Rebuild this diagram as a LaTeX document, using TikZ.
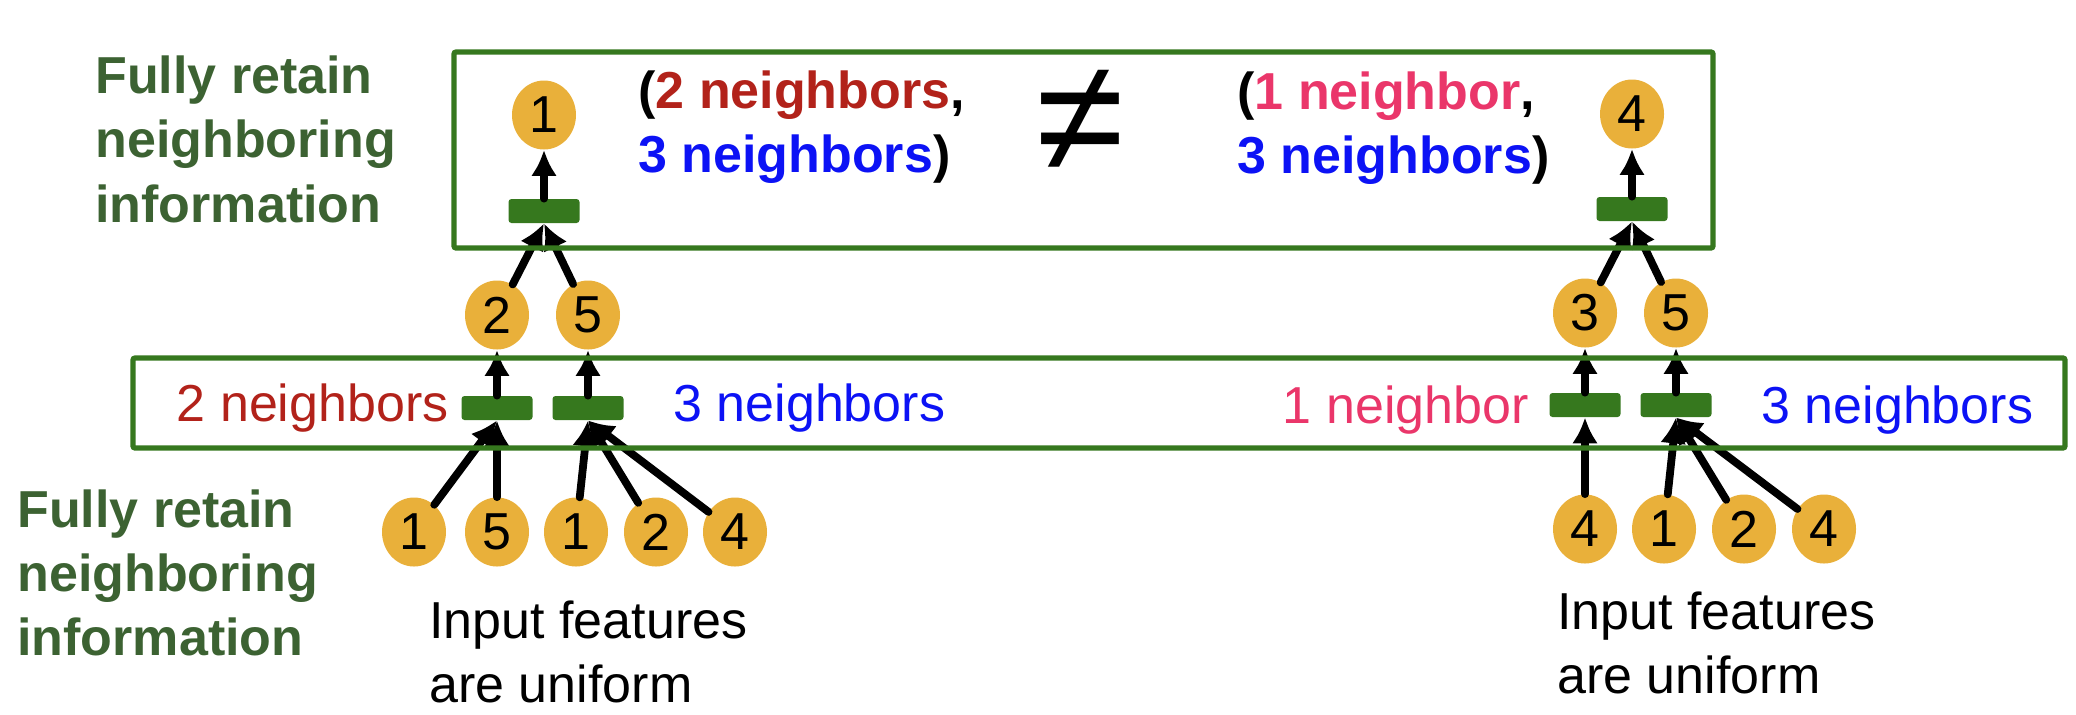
\documentclass[tikz,border=0pt]{standalone}
\usepackage{fontspec}
\setmainfont{Liberation Sans}
\usetikzlibrary{shapes.geometric,arrows.meta}
\definecolor{vorange}{RGB}{233,176,58}
\definecolor{aggreen}{RGB}{54,120,30}
\definecolor{txtgreen}{RGB}{60,98,50}
\definecolor{nred}{RGB}{178,34,26}
\definecolor{npink}{RGB}{234,54,106}
\definecolor{nblue}{RGB}{12,18,245}
\begin{document}
\begin{tikzpicture}[x=0.5pt,y=-0.5pt,font=\fontsize{26}{32}\selectfont,
  vert/.style={ellipse,fill=vorange,minimum width=32pt,minimum height=34.5pt,inner sep=0pt},
  agg/.style={rectangle,fill=aggreen,rounded corners=1.5pt,minimum width=35.5pt,minimum height=12pt,inner sep=0pt},
  box/.style={draw=aggreen,line width=2.6pt,rounded corners=1pt},
  flow/.style={line width=3.9pt,line cap=round,-{Latex[length=13pt,width=13pt]}},
  lbl/.style={inner sep=0pt,align=left}]
\useasboundingbox (0,0) rectangle (2076,714);
\node[vert] (u1) at (544,115) {1};
\node[agg] (ua) at (544,211) {};
\node[vert] (u2) at (497,315) {2};
\node[vert] (u5) at (588,315) {5};
\node[agg] (ub) at (497,408) {};
\node[agg] (uc) at (588,408) {};
\node[vert] (i1) at (414,532) {1};
\node[vert] (i2) at (497,532) {5};
\node[vert] (i3) at (576,532) {1};
\node[vert] (i4) at (656,532) {2};
\node[vert] (i5) at (735,532) {4};
\node[vert] (v4) at (1632,114) {4};
\node[agg] (va) at (1632,209) {};
\node[vert] (v3) at (1585,313) {3};
\node[vert] (v5) at (1676,313) {5};
\node[agg] (vb) at (1585,405) {};
\node[agg] (vc) at (1676,405) {};
\node[vert] (j1) at (1585,529) {4};
\node[vert] (j2) at (1664,529) {1};
\node[vert] (j3) at (1744,529) {2};
\node[vert] (j4) at (1824,529) {4};
\draw[flow] (ua) -- (u1);
\draw[flow] (u2) -- (ua.south);
\draw[flow] (u5) -- (ua.south);
\draw[flow] (ub) -- (u2);
\draw[flow] (uc) -- (u5);
\draw[flow] (i1) -- (ub.south);
\draw[flow] (i2) -- (ub.south);
\draw[flow] (i3) -- (uc.south);
\draw[flow] (i4) -- (uc.south);
\draw[flow] (i5) -- (uc.south);
\draw[flow] (va) -- (v4);
\draw[flow] (v3) -- (va.south);
\draw[flow] (v5) -- (va.south);
\draw[flow] (vb) -- (v3);
\draw[flow] (vc) -- (v5);
\draw[flow] (j1) -- (vb.south);
\draw[flow] (j2) -- (vc.south);
\draw[flow] (j3) -- (vc.south);
\draw[flow] (j4) -- (vc.south);
\draw[box] (454,52) rectangle (1713,248);
\draw[box] (133,358) rectangle (2065,448);
\node[lbl,anchor=base west,text=txtgreen,font=\fontsize{26}{32.25}\selectfont\bfseries] (g1) at (95,222) {Fully retain\\neighboring\\information};
\node[lbl,anchor=base west,text=txtgreen,font=\fontsize{26}{32}\selectfont\bfseries] (g2) at (17,655) {Fully retain\\neighboring\\information};
\node[lbl,anchor=base west,font=\fontsize{26}{32}\selectfont\bfseries] (c1) at (638,172) {(\textcolor{nred}{2 neighbors},\\\textcolor{nblue}{3 neighbors})};
\node[inner sep=0pt,font=\fontsize{80}{80}\selectfont] (ne) at (1080,121) {≠};
\node[lbl,anchor=base west,font=\fontsize{26}{32}\selectfont\bfseries] (c2) at (1237,173) {(\textcolor{npink}{1 neighbor},\\\textcolor{nblue}{3 neighbors})};
\node[lbl,anchor=base east,text=nred] (n2) at (449,421) {2 neighbors};
\node[lbl,anchor=base west,text=nblue] (n3) at (673,421) {3 neighbors};
\node[lbl,anchor=base east,text=npink] (n1) at (1529,423) {1 neighbor};
\node[lbl,anchor=base west,text=nblue] (n4) at (1761,423) {3 neighbors};
\node[lbl,anchor=base west] (f1) at (429,702) {Input features\\are uniform};
\node[lbl,anchor=base west] (f2) at (1557,693) {Input features\\are uniform};
\end{tikzpicture}
\end{document}
